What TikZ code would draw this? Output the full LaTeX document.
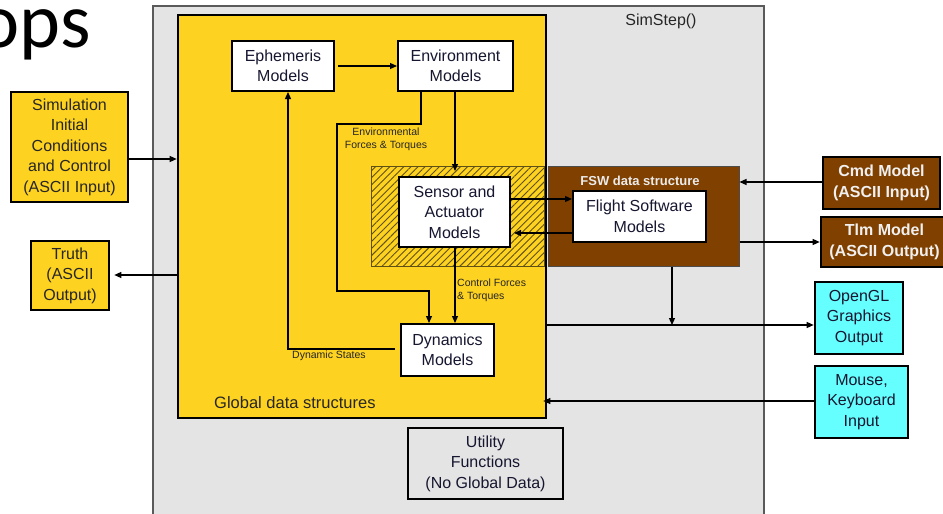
\documentclass[tikz,border=0pt]{standalone}
\usepackage{fontspec}
\setmainfont{Liberation Sans}
\newfontfamily\headingfont{Carlito}
\usetikzlibrary{arrows.meta,patterns.meta}

\definecolor{gold}{RGB}{254,210,32}
\definecolor{fswbrown}{RGB}{128,64,0}
\definecolor{cyanbox}{RGB}{102,255,255}
\definecolor{simgray}{RGB}{228,228,228}
\definecolor{framegray}{RGB}{90,90,90}
\definecolor{ink}{RGB}{22,22,48}
\definecolor{hatchink}{RGB}{95,80,20}

\begin{document}
\begin{tikzpicture}[x=1pt,y=-1pt,
  every node/.style={inner sep=0pt},
  boxtext/.style={align=center, font=\fontsize{16}{20.5}\selectfont},
  modelbox/.style={boxtext, draw=black, line width=2pt, fill=white, text=ink},
  goldbox/.style={boxtext, draw=black, line width=2.6pt, fill=gold, text=black!85},
  brownbox/.style={boxtext, draw=black, line width=2.6pt, fill=fswbrown, text=white!94!black,
                   font=\bfseries\fontsize{16}{20.5}\selectfont},
  cyanstyle/.style={boxtext, draw=black, line width=2.6pt, fill=cyanbox, text=ink},
  smalllabel/.style={font=\fontsize{10.5}{13}\selectfont, text=black!85, align=left},
  arr/.style={draw=black, line width=1.2pt, -{Triangle[length=7pt,width=6pt]}},
  line/.style={draw=black, line width=1.2pt}]

\useasboundingbox (0,0) rectangle (943,514);

% slide heading fragment
\node[anchor=base east, font=\headingfont\fontsize{78}{80}\selectfont] (heading) at (91,47) {ops};

% SimStep() container
\node[draw=framegray, line width=1.3pt, fill=simgray, minimum width=611pt, minimum height=524pt]
  (simstep) at (458.5,268) {};
\node[font=\fontsize{16}{18}\selectfont, text=black!85] (simlabel) at (661,21) {SimStep()};

% global data structures
\node[draw=black, line width=2.6pt, fill=gold, minimum width=368pt, minimum height=403pt]
  (glob) at (362,216.5) {};
\node[anchor=west, font=\fontsize{16.5}{18}\selectfont, text=black!85] (globlabel) at (214,403)
  {Global data structures};

% hatched sensor/actuator interface region
\node[draw=hatchink, line width=0.8pt, fill=gold,
      postaction={pattern={Lines[angle=45,distance=5pt,line width=0.9pt]}, pattern color=hatchink},
      minimum width=173pt, minimum height=100pt] (hatch) at (458,216) {};

% FSW data structure
\node[draw=black!70, line width=1pt, fill=fswbrown, minimum width=191pt, minimum height=100pt]
  (fsw) at (643.5,216) {};
\node[font=\bfseries\fontsize{13}{15}\selectfont, text=white!92!black] (fswlabel) at (640,181)
  {FSW data structure};

% models
\node[modelbox, minimum width=102pt, minimum height=50pt] (eph) at (283,66) {Ephemeris\\Models};
\node[modelbox, minimum width=115pt, minimum height=50pt] (env) at (455.5,66) {Environment\\Models};
\node[modelbox, minimum width=111pt, minimum height=70pt] (sens) at (454.5,212) {Sensor and\\Actuator\\Models};
\node[modelbox, minimum width=133pt, minimum height=51pt] (flight) at (639.5,216.5) {Flight Software\\Models};
\node[modelbox, minimum width=93pt, minimum height=52pt] (dyn) at (447.5,350) {Dynamics\\Models};

% utility functions
\node[boxtext, draw=black, line width=2.4pt, fill=simgray, text=ink,
      minimum width=155pt, minimum height=71pt] (util) at (485.5,463.5) {Utility\\Functions\\(No Global Data)};

% external inputs and outputs
\node[goldbox, minimum width=117pt, minimum height=110pt] (simin) at (69.5,147)
  {Simulation\\Initial\\Conditions\\and Control\\(ASCII Input)};
\node[goldbox, minimum width=78pt, minimum height=69pt] (truth) at (70,275.5) {Truth\\(ASCII\\Output)};
\node[brownbox, minimum width=117pt, minimum height=52pt] (cmd) at (881.5,183) {Cmd Model\\(ASCII Input)};
\node[draw=black, line width=2.6pt, fill=fswbrown, minimum width=138pt, minimum height=50pt]
  (tlm) at (890,242) {};
\node[boxtext, text=white!94!black, font=\bfseries\fontsize{16}{20.5}\selectfont]
  (tlmtext) at (884.5,242) {Tlm Model\\(ASCII Output)};
\node[cyanstyle, minimum width=88pt, minimum height=72pt] (ogl) at (859,318) {OpenGL\\Graphics\\Output};
\node[cyanstyle, minimum width=93pt, minimum height=72pt] (mouse) at (861.5,402) {Mouse,\\Keyboard\\Input};

% connectors inside the global data structures
\draw[arr, shorten <=3pt] (eph.east) -- (env.west);
\draw[arr, shorten >=5pt] (env.south -| 455,0) -- (sens.north -| 455,0);
\draw[arr] (env.south -| 421,0) |- (337,124) |- (429,291) -- (dyn.north -| 429,0);
\node[smalllabel, align=center] (envlabel) at (386,139.5) {Environmental\\Forces \& Torques};
\draw[arr] (sens.south -| 455,0) -- (dyn.north -| 455,0);
\node[smalllabel, anchor=west] (ctrllabel) at (457,290) {Control Forces\\\& Torques};
\draw[arr] ([xshift=-5pt]dyn.west |- 0,349) -| (eph.south -| 288,0);
\node[smalllabel, anchor=west] (dynlabel) at (292,356) {Dynamic States};

% sensor/actuator <-> flight software
\draw[arr] (sens.east |- 0,199) -- (flight.west |- 0,199);
\draw[arr, shorten >=3pt] (flight.west |- 0,233) -- (sens.east |- 0,233);

% external connections
\draw[arr] (simin.east |- 0,159) -- (glob.west |- 0,159);
\draw[arr, shorten >=4pt] (glob.west |- 0,275) -- (truth.east |- 0,275);
\draw[arr] (cmd.west |- 0,182) -- (fsw.east |- 0,182);
\draw[arr] (fsw.east |- 0,242) -- (tlm.west |- 0,242);
\coordinate (gfx) at (672,325);
\draw[arr] (glob.east |- gfx) -- (ogl.west |- gfx);
\draw[arr] (fsw.south -| gfx) -- (gfx);
\draw[arr, shorten >=-4pt] (mouse.west |- 0,401) -- (glob.east |- 0,401);

\end{tikzpicture}
\end{document}
